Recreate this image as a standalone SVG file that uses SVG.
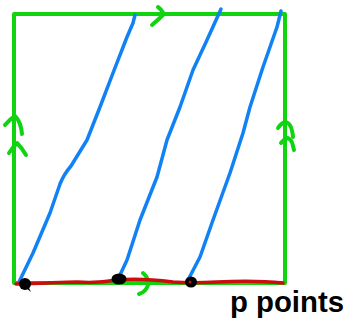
<svg xmlns="http://www.w3.org/2000/svg" width="354" height="326" viewBox="0 0 354 326">
<style>
.g{fill:none;stroke:#11d411;stroke-width:4;stroke-linecap:round;stroke-linejoin:round}
.b{fill:none;stroke:#1182f5;stroke-width:3.5;stroke-linecap:round;stroke-linejoin:round}
.r{fill:none;stroke:#cc0d0d;stroke-width:3.5;stroke-linecap:round;stroke-linejoin:round}
.d{fill:#000}
.t{font-family:"Liberation Sans",sans-serif;font-size:30px;font-weight:bold;fill:#000}
</style>
<rect width="354" height="326" fill="#fff"/>
<g id="square">
<rect x="14" y="14" width="271" height="269" class="g"/>
</g>
<g id="arrows">
<path class="g" d="M152,25 Q159,19 164,14 Q161,9 158,7"/>
<path class="g" d="M5,125 Q10,119 15,116 Q21,122 22,134"/>
<path class="g" d="M9,153 Q13,147 17,143 Q22,148 26,155"/>
<path class="g" d="M278,128 Q281,123 286,122 Q291,124 292,131 Q293,135 293,137"/>
<path class="g" d="M281,143 Q284,139 288,138 Q292,140 293,146 L294,150"/>
<path class="g" d="M143,273 Q149,278 148,285 Q146,292 139,294"/>
</g>
<g id="connectors">
<path class="b" d="M19,282 L33,253 L50,213 L60,184 Q64,174 71,166 L87,140 L100,107 L113,73 L127,37 L133,23 L135,15"/>
<path class="b" d="M120,275 L127,260 L140,220 L157,177 L167,140 L180,107 L193,70 L207,40 L221,9"/>
<path class="b" d="M188,280 L200,257 L213,220 L230,173 L243,133 L250,107 L263,67 L277,27 L281,11"/>
<path class="r" d="M16,284 C40,284 60,282 77,282 C90,283 100,283 117,280 C135,278 150,279 173,282 C185,283 200,283 217,282 C235,281 255,280 283,283"/>
</g>
<g id="points">
<ellipse class="d" cx="25" cy="284" rx="6" ry="6"/>
<path class="d" d="M26,288 L31,292 L28,286 Z"/>
<ellipse class="d" cx="119" cy="279" rx="7.5" ry="5.5"/>
<ellipse class="d" cx="191" cy="282" rx="6" ry="5.5"/>
<circle cx="190" cy="282" r="1.5" fill="#cc0d0d"/>
</g>
<g id="label">
<text class="t" x="230" y="312" textLength="114" lengthAdjust="spacingAndGlyphs">p points</text>
</g>
</svg>
